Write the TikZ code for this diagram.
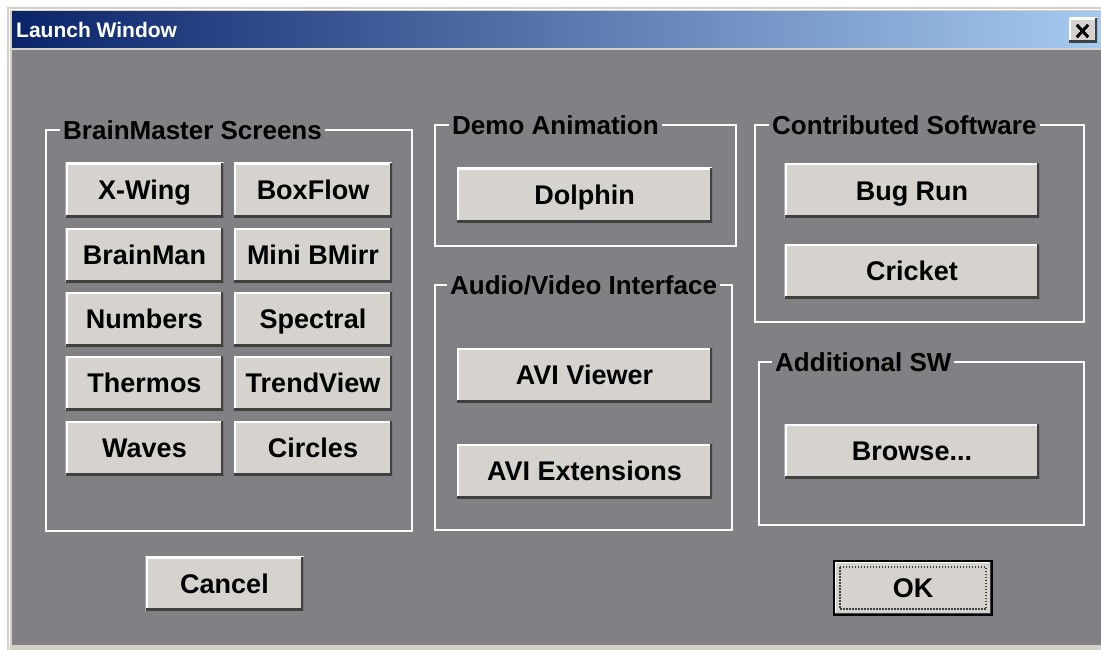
\documentclass[tikz,border=0pt]{standalone}
\usepackage{fontspec}
\setmainfont{Liberation Sans}
\definecolor{winbody}{RGB}{130,128,132}
\definecolor{btnface}{RGB}{214,211,206}
\definecolor{btnshade}{RGB}{64,64,64}
\definecolor{titleL}{RGB}{10,36,106}
\definecolor{titleR}{RGB}{166,202,240}
\definecolor{frameL}{RGB}{212,208,200}
\begin{document}
\begin{tikzpicture}
	[x=1pt, y=-1pt,
	btn/.style={fill=btnface, inner sep=0pt, text height=19.5pt, text depth=0pt,
		font=\bfseries\fontsize{27}{30}\selectfont, minimum width=158pt, minimum height=54pt,
		path picture={
			\draw[white, line width=4pt] (path picture bounding box.south west) |- (path picture bounding box.north east);
			\draw[btnshade, line width=5pt] (path picture bounding box.south west) -| (path picture bounding box.north east);}},
	wide/.style={btn, minimum width=255pt},
	group/.style={draw=white, line width=2pt},
	grouplabel/.style={anchor=base west, fill=winbody, inner xsep=3pt, inner ysep=2pt,
		font=\bfseries\fontsize{26}{30}\selectfont}]
	\useasboundingbox (0,0) rectangle (1101,650);
	\fill[white] (0,0) rectangle (1101,650);
	\fill[frameL] (7,7) rectangle (1101,650);
	\draw[white, line width=1.5pt] (9.5,650) -- (9.5,9.5) -- (1101,9.5);
	\shade[left color=titleL, right color=titleR] (12,12) rectangle (1101,48);
	\fill[winbody] (12,50) rectangle (1101,645);
	\node[anchor=west, inner sep=0pt, text=white, font=\bfseries\fontsize{21}{24}\selectfont] (title) at (16,30) {Launch Window};
	\node[btn, minimum width=28pt, minimum height=25pt] (close) at (1083,30.5) {};
	\draw[line width=3pt] ([shift={(8pt,-7pt)}]close.north west) -- ([shift={(-9pt,6pt)}]close.south east)
		([shift={(8pt,6pt)}]close.south west) -- ([shift={(-9pt,-7pt)}]close.north east);
	\draw[group] (46,130) rectangle (412,531);
	\node[grouplabel] (lbms) at (60,139.5) {BrainMaster Screens};
	\draw[group] (435,125) rectangle (736,246);
	\node[grouplabel] (ldemo) at (449,134.5) {Demo Animation};
	\draw[group] (435,285) rectangle (732,530);
	\node[grouplabel] (lavi) at (447,294.5) {Audio/Video Interface};
	\draw[group] (755,125) rectangle (1084,322);
	\node[grouplabel] (lcontrib) at (769,134.5) {Contributed Software};
	\draw[group] (759,362) rectangle (1084,525);
	\node[grouplabel] (laddsw) at (772,371.5) {Additional SW};
	\node[btn] (xwing) at (144.5,190) {X-Wing};
	\node[btn] (boxflow) at (313,190) {BoxFlow};
	\node[btn] (brainman) at (144.5,255) {BrainMan};
	\node[btn] (minibm) at (313,255) {Mini BMirr};
	\node[btn] (numbers) at (144.5,319) {Numbers};
	\node[btn] (spectral) at (313,319) {Spectral};
	\node[btn] (thermos) at (144.5,383) {Thermos};
	\node[btn] (trendview) at (313,383) {TrendView};
	\node[btn] (waves) at (144.5,448) {Waves};
	\node[btn] (circles) at (313,448) {Circles};
	\node[btn] (cancel) at (224.5,583.5) {Cancel};
	\node[wide] (dolphin) at (584.5,195) {Dolphin};
	\node[wide] (aviview) at (584.5,375) {AVI Viewer};
	\node[wide] (aviext) at (584.5,471) {AVI Extensions};
	\node[wide] (bugrun) at (912,190.5) {Bug Run};
	\node[wide] (cricket) at (912,271) {Cricket};
	\node[wide] (browse) at (912,451) {Browse...};
	\node[btn, draw=black, line width=2pt] (ok) at (913,588) {OK};
	\draw[btnshade, line width=1.5pt, dash pattern=on 1.5pt off 1.5pt]
		([shift={(7pt,-7pt)}]ok.north west) rectangle ([shift={(-7pt,7pt)}]ok.south east);
\end{tikzpicture}
\end{document}
